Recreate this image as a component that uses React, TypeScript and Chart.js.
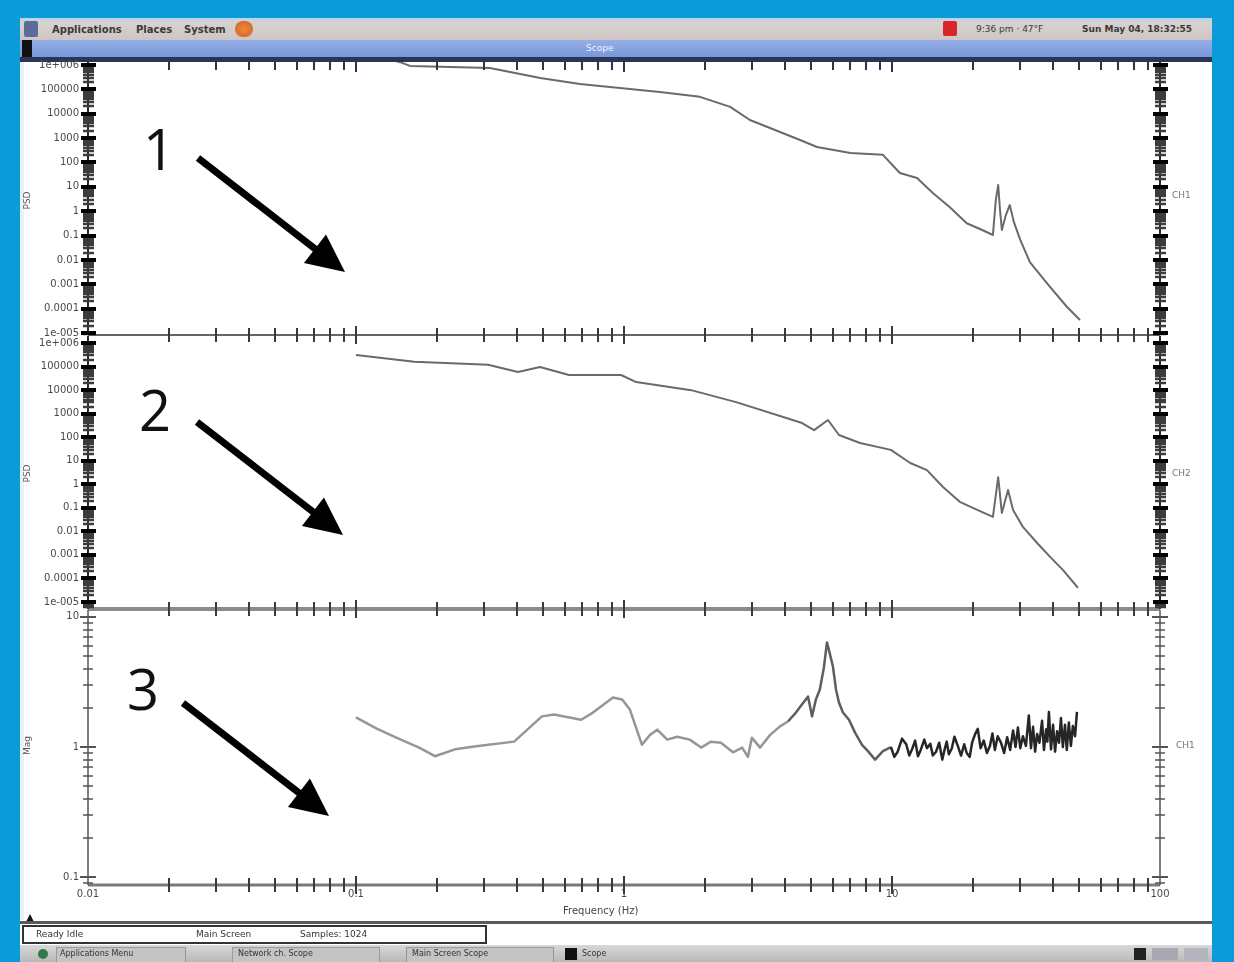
import React, { useEffect, useRef } from "react";
import { Chart, registerables } from "chart.js";

Chart.register(...registerables);

// ---------------- data ----------------
const FREQ_1 = [0.1, 0.146, 0.159, 0.224, 0.316, 0.487, 0.685, 0.966, 1.36, 1.92, 2.49, 2.95, 4.54, 5.25, 7.0, 9.25, 10.7, 12.4, 14.2, 16.4, 19.0, 21.3, 23.8, 24.4, 24.9, 25.3, 25.7, 26.6, 27.5, 28.5, 30.1, 32.7, 37.9, 45.0, 50.3];
const PSD_1 = [4e6, 1.3e6, 9.1e5, 8.3e5, 7.5e5, 2.9e5, 1.66e5, 1.14e5, 7.8e4, 4.9e4, 1.9e4, 5.5e3, 830, 430, 245, 205, 37, 23, 5.6, 1.48, 0.32, 0.185, 0.105, 2.9, 11.8, 1.12, 0.17, 0.69, 1.78, 0.355, 0.066, 0.0081, 0.0011, 1.17e-4, 3.4e-5];

const FREQ_2 = [0.1, 0.165, 0.311, 0.402, 0.486, 0.623, 0.975, 1.11, 1.78, 2.62, 4.62, 5.12, 5.77, 6.34, 7.6, 9.9, 11.7, 13.5, 15.5, 17.9, 20.8, 23.8, 24.9, 25.7, 27.1, 28.3, 30.8, 34.8, 38.9, 43.4, 49.4];
const PSD_2 = [3.1e5, 1.6e5, 1.2e5, 5.9e4, 9.6e4, 4.4e4, 4.4e4, 2.2e4, 1.0e4, 3.1e3, 400, 200, 540, 124, 57, 29, 8.0, 4.0, 0.77, 0.18, 0.081, 0.041, 2.0, 0.06, 0.57, 0.081, 0.0154, 0.0032, 8.2e-4, 2.3e-4, 4.0e-5];

const FREQ_3 = [0.1, 0.119, 0.140, 0.172, 0.197, 0.234, 0.276, 0.389, 0.494, 0.548, 0.692, 0.766, 0.910, 0.984, 1.052, 1.167, 1.25, 1.33, 1.45, 1.58, 1.76, 1.94, 2.11, 2.30, 2.55, 2.76, 2.90, 3.00, 3.22, 3.51, 3.82, 4.09, 4.38, 4.62, 4.86, 5.03, 5.20, 5.38, 5.57, 5.72, 5.87, 6.02, 6.18, 6.34, 6.56, 6.91, 7.28, 7.73, 8.13, 8.65, 9.25,
  9.91, 10.2, 10.5, 10.9, 11.3, 11.6, 11.9, 12.2, 12.5, 12.8, 13.2, 13.5, 13.9, 14.2, 14.6, 15.0, 15.4, 15.7, 16.0, 16.3, 16.7, 17.1, 17.6, 18.1, 18.6, 19.0, 19.5, 19.9, 20.4, 20.9, 21.4, 22.0, 22.6, 23.2, 23.7, 24.2, 24.8, 25.5, 26.2, 26.9, 27.6, 28.3, 28.9, 29.5, 30.1, 30.8, 31.6, 32.4, 33.0, 33.6, 34.2, 34.8, 35.5, 36.3, 36.9, 37.6, 38.0, 38.5, 39.2, 39.9, 40.6, 41.3, 42.0, 42.7, 43.4, 44.2, 44.9, 45.7, 46.5, 47.3, 48.2, 49.0];
const MAG_3 = [1.69, 1.39, 1.19, 0.99, 0.85, 0.96, 1.01, 1.10, 1.72, 1.78, 1.62, 1.84, 2.40, 2.32, 1.94, 1.04, 1.24, 1.36, 1.14, 1.20, 1.14, 0.99, 1.10, 1.08, 0.91, 0.99, 0.84, 1.18, 0.99, 1.24, 1.44, 1.57, 1.84, 2.13, 2.44, 1.72, 2.32, 2.77, 4.09, 6.37, 5.15, 4.16, 2.77, 2.20, 1.84, 1.62, 1.29, 1.04, 0.93, 0.80, 0.93,
  1.0, 0.84, 0.92, 1.16, 1.05, 0.86, 0.97, 1.12, 0.85, 0.95, 1.14, 0.98, 1.06, 0.86, 0.92, 1.08, 0.80, 0.95, 1.10, 0.88, 0.97, 1.20, 1.02, 0.86, 1.05, 0.90, 0.84, 1.08, 1.25, 1.38, 0.98, 1.12, 0.90, 1.02, 1.27, 0.95, 1.21, 1.08, 0.90, 1.19, 0.95, 1.34, 1.00, 1.41, 0.98, 1.21, 1.02, 1.75, 0.98, 1.43, 0.92, 1.26, 1.08, 1.59, 0.95, 1.37, 1.10, 1.86, 0.96, 1.48, 0.92, 1.32, 1.08, 1.67, 1.00, 1.48, 0.95, 1.54, 1.02, 1.45, 1.21, 1.86];

// axis ranges (the labelled decades sit a little inside each panel)
const PSD1_RANGE = [8.3e-6, 1.32e6];
const PSD2_RANGE = [5.0e-6, 2.0e6];
const MAG3_RANGE = [0.087, 11.3];

const X_TICK_VALUES = [0.01, 0.1, 1, 10, 100];
const X_TICK_LABELS = ["0.01", "0.1", "1", "10", "100"];
const PSD_TICK_VALUES = [1e-5, 1e-4, 1e-3, 0.01, 0.1, 1, 10, 100, 1000, 1e4, 1e5, 1e6];
const PSD_TICK_LABELS = ["1e-005", "0.0001", "0.001", "0.01", "0.1", "1", "10", "100", "1000", "10000", "100000", "1e+006"];
const MAG_TICK_VALUES = [0.1, 1, 10];
const MAG_TICK_LABELS = ["0.1", "1", "10"];
const MINOR_MULTIPLIERS = [2, 3, 4, 5, 6, 7, 8, 9];

const minorsOf = (decades: number[]) =>
  decades.flatMap((d) => MINOR_MULTIPLIERS.map((m) => d * m));
const decadesFor = (lo: number, hi: number) => {
  const out: number[] = [];
  for (let e = Math.floor(Math.log10(lo)); e <= Math.ceil(Math.log10(hi)); e++) out.push(Math.pow(10, e));
  return out;
};

// ---------------- drawing helpers ----------------
function seg(ctx: CanvasRenderingContext2D, x1: number, y1: number, x2: number, y2: number) {
  ctx.beginPath();
  ctx.moveTo(x1, y1);
  ctx.lineTo(x2, y2);
  ctx.stroke();
}

type FrameOpts = {
  heavy: boolean;
  topEdge: boolean;
  bottomColor: string;
  bottomWidth: number;
  yTicks: number[];
  yMin: number;
  yMax: number;
};

function framePlugin(o: FrameOpts) {
  return {
    id: "frame",
    afterDraw(chart: any) {
      const { ctx, chartArea: a, scales } = chart;
      const xs = scales.x;
      const ys = scales.y;
      ctx.save();
      ctx.lineCap = "butt";

      ctx.strokeStyle = o.bottomColor;
      ctx.lineWidth = o.bottomWidth;
      seg(ctx, a.left, a.bottom, a.right, a.bottom);

      const xMinors = minorsOf(X_TICK_VALUES.slice(0, -1));
      ctx.strokeStyle = "#3a3a3a";
      ctx.lineWidth = 2;
      for (const v of xMinors) {
        const px = Math.round(xs.getPixelForValue(v));
        seg(ctx, px, a.bottom - 7, px, a.bottom + 7);
      }
      for (const v of X_TICK_VALUES.slice(1, -1)) {
        const px = Math.round(xs.getPixelForValue(v));
        seg(ctx, px, a.bottom - 9, px, a.bottom + 9);
      }
      if (o.topEdge) {
        ctx.strokeStyle = "#2a3350";
        for (const v of xMinors) {
          const px = Math.round(xs.getPixelForValue(v));
          seg(ctx, px, a.top, px, a.top + 8);
        }
        for (const v of X_TICK_VALUES.slice(1, -1)) {
          const px = Math.round(xs.getPixelForValue(v));
          seg(ctx, px, a.top, px, a.top + 10);
        }
      }

      const minors = minorsOf(decadesFor(o.yMin, o.yMax)).filter((v) => v > o.yMin && v < o.yMax);
      for (const xe of [a.left, a.right]) {
        if (o.heavy) {
          ctx.strokeStyle = "#2a2a2a";
          ctx.lineWidth = 2;
          seg(ctx, xe, a.top, xe, a.bottom);
          ctx.strokeStyle = "#3c3c3c";
          ctx.lineWidth = 2.5;
          for (const v of minors) {
            const py = Math.round(ys.getPixelForValue(v));
            seg(ctx, xe - 5, py, xe + 6, py);
          }
          ctx.strokeStyle = "#000";
          ctx.lineWidth = 4;
          for (const v of o.yTicks) {
            const py = Math.round(ys.getPixelForValue(v));
            seg(ctx, xe - 7, py, xe + 8, py);
          }
        } else {
          ctx.strokeStyle = "#555";
          ctx.lineWidth = 1.5;
          seg(ctx, xe, a.top, xe, a.bottom);
          for (const v of minors) {
            const py = Math.round(ys.getPixelForValue(v));
            seg(ctx, xe - 5, py, xe + 5, py);
          }
          ctx.lineWidth = 2;
          for (const v of o.yTicks) {
            const py = Math.round(ys.getPixelForValue(v));
            seg(ctx, xe - 8, py, xe + 8, py);
          }
        }
      }
      ctx.restore();
    },
  };
}

type PanelProps = {
  top: number;
  height: number;
  padTop: number;
  padBottom: number;
  freq: number[];
  values: number[];
  yRange: number[];
  yTicks: number[];
  yLabels: string[];
  showX: boolean;
  heavy: boolean;
  topEdge: boolean;
  bottomColor: string;
  bottomWidth: number;
  lineColor: string;
  lineWidth: number;
  midColor?: string;
  midFrom?: number;
  noisyColor?: string;
  noisyFrom?: number;
};

const CANVAS_LEFT = 20;
const CANVAS_WIDTH = 1192;

function Panel(p: PanelProps) {
  const ref = useRef<HTMLCanvasElement | null>(null);
  useEffect(() => {
    if (!ref.current) return;
    const font = { family: "'DejaVu Sans', sans-serif", size: 10 };
    const chart = new Chart(ref.current, {
      type: "line",
      data: {
        datasets: [
          {
            data: p.freq.map((f, i) => ({ x: f, y: p.values[i] })),
            borderColor: p.lineColor,
            borderWidth: p.lineWidth,
            borderJoinStyle: "round",
            pointRadius: 0,
            tension: 0,
            fill: false,
            segment: {
              borderColor: (c: any) => {
                const x = c.p0.parsed.x;
                if (p.noisyFrom !== undefined && x >= p.noisyFrom) return p.noisyColor;
                if (p.midFrom !== undefined && x >= p.midFrom) return p.midColor;
                return undefined;
              },
            },
          } as any,
        ],
      },
      options: {
        animation: false,
        responsive: false,
        devicePixelRatio: 1,
        layout: { padding: { top: p.padTop, bottom: p.padBottom, left: 0, right: 52 } },
        plugins: { legend: { display: false }, tooltip: { enabled: false } },
        scales: {
          x: {
            type: "logarithmic",
            min: 0.01,
            max: 100,
            display: p.showX,
            afterFit: (s: any) => {
              s.height = p.showX ? 25 : 0;
            },
            afterBuildTicks: (s: any) => {
              s.ticks = X_TICK_VALUES.map((v) => ({ value: v }));
            },
            ticks: {
              display: p.showX,
              autoSkip: false,
              maxRotation: 0,
              padding: 3,
              color: "#4a4a4a",
              font,
              callback: (_v: any, i: number) => X_TICK_LABELS[i],
            },
            grid: { display: false, drawTicks: false },
            border: { display: false },
          },
          y: {
            type: "logarithmic",
            min: p.yRange[0],
            max: p.yRange[1],
            position: "left",
            afterFit: (s: any) => {
              s.width = 68;
            },
            afterBuildTicks: (s: any) => {
              s.ticks = p.yTicks.map((v) => ({ value: v }));
            },
            ticks: {
              autoSkip: false,
              padding: 9,
              color: "#4a4a4a",
              font,
              callback: (_v: any, i: number) => p.yLabels[i],
            },
            grid: { display: false, drawTicks: false },
            border: { display: false },
          },
        },
      } as any,
      plugins: [
        framePlugin({
          heavy: p.heavy,
          topEdge: p.topEdge,
          bottomColor: p.bottomColor,
          bottomWidth: p.bottomWidth,
          yTicks: p.yTicks,
          yMin: p.yRange[0],
          yMax: p.yRange[1],
        }),
      ],
    });
    return () => chart.destroy();
  }, []);
  return (
    <canvas
      ref={ref}
      width={CANVAS_WIDTH}
      height={p.height}
      style={{ position: "absolute", left: CANVAS_LEFT, top: p.top, width: CANVAS_WIDTH, height: p.height }}
    />
  );
}

// ---------------- chrome helpers ----------------
const abs = (l: number, t: number, w: number, h: number, s: React.CSSProperties = {}): React.CSSProperties => ({
  position: "absolute",
  left: l,
  top: t,
  width: w,
  height: h,
  ...s,
});

function Txt(props: { x: number; y: number; size?: number; color?: string; bold?: boolean; children: React.ReactNode; style?: React.CSSProperties }) {
  return (
    <span
      style={{
        position: "absolute",
        left: props.x,
        top: props.y,
        fontSize: props.size ?? 10,
        lineHeight: 1,
        color: props.color ?? "#333",
        fontWeight: props.bold ? 700 : 400,
        whiteSpace: "nowrap",
        fontFamily: "'DejaVu Sans', sans-serif",
        ...props.style,
      }}
    >
      {props.children}
    </span>
  );
}

function Arrow({ x1, y1, x2, y2 }: { x1: number; y1: number; x2: number; y2: number }) {
  const dx = x2 - x1;
  const dy = y2 - y1;
  const len = Math.hypot(dx, dy);
  const ux = dx / len;
  const uy = dy / len;
  const hl = 38;
  const hw = 18;
  const bx = x2 - ux * hl;
  const by = y2 - uy * hl;
  const pts = `${x2},${y2} ${bx - uy * hw},${by + ux * hw} ${bx + uy * hw},${by - ux * hw}`;
  return (
    <g>
      <line x1={x1} y1={y1} x2={bx + ux * 4} y2={by + uy * 4} stroke="#000" strokeWidth={7} />
      <polygon points={pts} fill="#000" />
    </g>
  );
}

const BIG: React.CSSProperties = {
  position: "absolute",
  fontFamily: "'Open Sans', 'Liberation Sans', sans-serif",
  fontSize: 56,
  lineHeight: 1,
  color: "#111",
};

export default function App() {
  return (
    <div style={{ position: "fixed", left: 0, top: 0, width: 1234, height: 962, background: "#0a9bd8", overflow: "hidden" }}>
      <div style={abs(20, 18, 1192, 944, { background: "#fff" })} />
      <div style={abs(20, 60, 4, 860, { background: "#e8f1f4" })} />

      <div style={abs(20, 18, 1192, 22, { background: "linear-gradient(#b9d4ea 0px, #d7d1cf 5px, #cdc6c4 100%)" })} />
      <div style={abs(24, 21, 14, 16, { background: "#5b6c9a", borderRadius: 2 })} />
      <Txt x={52} y={25} size={10} bold color="#3a3a3a">Applications</Txt>
      <Txt x={136} y={25} size={10} bold color="#3a3a3a">Places</Txt>
      <Txt x={184} y={25} size={10} bold color="#3a3a3a">System</Txt>
      <div style={abs(235, 21, 18, 16, { background: "radial-gradient(#f08a3a, #c9602a)", borderRadius: 8 })} />
      <div style={abs(943, 21, 14, 15, { background: "#d9242a", borderRadius: 2 })} />
      <Txt x={976} y={25} size={9} color="#3a3a3a">9:36 pm · 47°F</Txt>
      <Txt x={1082} y={25} size={9} bold color="#3a3a3a">Sun May 04, 18:32:55</Txt>

      <div style={abs(20, 40, 1192, 18, { background: "linear-gradient(#95afe6, #7696d8)" })} />
      <div style={abs(22, 40, 10, 17, { background: "#111" })} />
      <Txt x={586} y={44} size={9} color="#eef2ff">Scope</Txt>
      <div style={abs(20, 57, 1192, 5, { background: "#2b3656" })} />

      <Panel
        top={47}
        height={303}
        padTop={15}
        padBottom={15}
        freq={FREQ_1}
        values={PSD_1}
        yRange={PSD1_RANGE}
        yTicks={PSD_TICK_VALUES}
        yLabels={PSD_TICK_LABELS}
        showX={false}
        heavy
        topEdge
        bottomColor="#333"
        bottomWidth={1.5}
        lineColor="#6a6a6a"
        lineWidth={2}
      />
      <Panel
        top={321}
        height={303}
        padTop={15}
        padBottom={15}
        freq={FREQ_2}
        values={PSD_2}
        yRange={PSD2_RANGE}
        yTicks={PSD_TICK_VALUES}
        yLabels={PSD_TICK_LABELS}
        showX={false}
        heavy
        topEdge={false}
        bottomColor="#8c8c8c"
        bottomWidth={4}
        lineColor="#6a6a6a"
        lineWidth={2}
      />
      <Panel
        top={595}
        height={315}
        padTop={15}
        padBottom={0}
        freq={FREQ_3}
        values={MAG_3}
        yRange={MAG3_RANGE}
        yTicks={MAG_TICK_VALUES}
        yLabels={MAG_TICK_LABELS}
        showX
        heavy={false}
        topEdge={false}
        bottomColor="#7a7a7a"
        bottomWidth={3}
        lineColor="#969696"
        lineWidth={2.5}
        midColor="#5e5e5e"
        midFrom={4}
        noisyColor="#262626"
        noisyFrom={9.5}
      />

      <Txt x={563} y={906} size={10} color="#444">Frequency (Hz)</Txt>
      <Txt x={18} y={196} size={9} color="#555" style={{ transform: "rotate(-90deg)" }}>PSD</Txt>
      <Txt x={18} y={469} size={9} color="#555" style={{ transform: "rotate(-90deg)" }}>PSD</Txt>
      <Txt x={18} y={741} size={9} color="#555" style={{ transform: "rotate(-90deg)" }}>Mag</Txt>
      <Txt x={1172} y={191} size={9} color="#777">CH1</Txt>
      <Txt x={1172} y={469} size={9} color="#777">CH2</Txt>
      <Txt x={1176} y={741} size={9} color="#777">CH1</Txt>

      <span style={{ ...BIG, left: 143, top: 120 }}>1</span>
      <span style={{ ...BIG, left: 139, top: 381 }}>2</span>
      <span style={{ ...BIG, left: 127, top: 660 }}>3</span>
      <svg width={1234} height={962} style={{ position: "absolute", left: 0, top: 0, pointerEvents: "none" }}>
        <Arrow x1={198} y1={158} x2={345} y2={272} />
        <Arrow x1={197} y1={422} x2={343} y2={535} />
        <Arrow x1={183} y1={703} x2={329} y2={816} />
      </svg>

      <div style={abs(26, 914, 8, 8, { background: "#111", clipPath: "polygon(50% 0, 100% 100%, 0 100%)" })} />
      <div style={abs(20, 921, 1192, 3, { background: "#5a5a5a" })} />
      <div style={abs(22, 925, 461, 15, { border: "2px solid #333" })} />
      <Txt x={36} y={930} size={9} color="#333">Ready  Idle</Txt>
      <Txt x={196} y={930} size={9} color="#333">Main Screen</Txt>
      <Txt x={300} y={930} size={9} color="#333">Samples: 1024</Txt>

      <div style={abs(20, 945, 1192, 17, { background: "linear-gradient(#d8d8d8, #b9b9b9)" })} />
      <div style={abs(38, 949, 10, 10, { background: "#2f7a4a", borderRadius: 5 })} />
      <div style={abs(56, 947, 128, 14, { background: "#c4c4c4", border: "1px solid #9a9a9a" })} />
      <Txt x={60} y={950} size={8} color="#333">Applications Menu</Txt>
      <div style={abs(232, 947, 146, 14, { background: "#c4c4c4", border: "1px solid #9a9a9a" })} />
      <Txt x={238} y={950} size={8} color="#333">Network ch. Scope</Txt>
      <div style={abs(406, 947, 146, 14, { background: "#c4c4c4", border: "1px solid #9a9a9a" })} />
      <Txt x={412} y={950} size={8} color="#333">Main Screen Scope</Txt>
      <div style={abs(565, 948, 12, 12, { background: "#111" })} />
      <Txt x={582} y={950} size={8} color="#333">Scope</Txt>
      <div style={abs(1134, 948, 12, 12, { background: "#222" })} />
      <div style={abs(1152, 948, 26, 12, { background: "#a9a9b4" })} />
      <div style={abs(1184, 948, 24, 12, { background: "#b4b4bc" })} />
    </div>
  );
}
